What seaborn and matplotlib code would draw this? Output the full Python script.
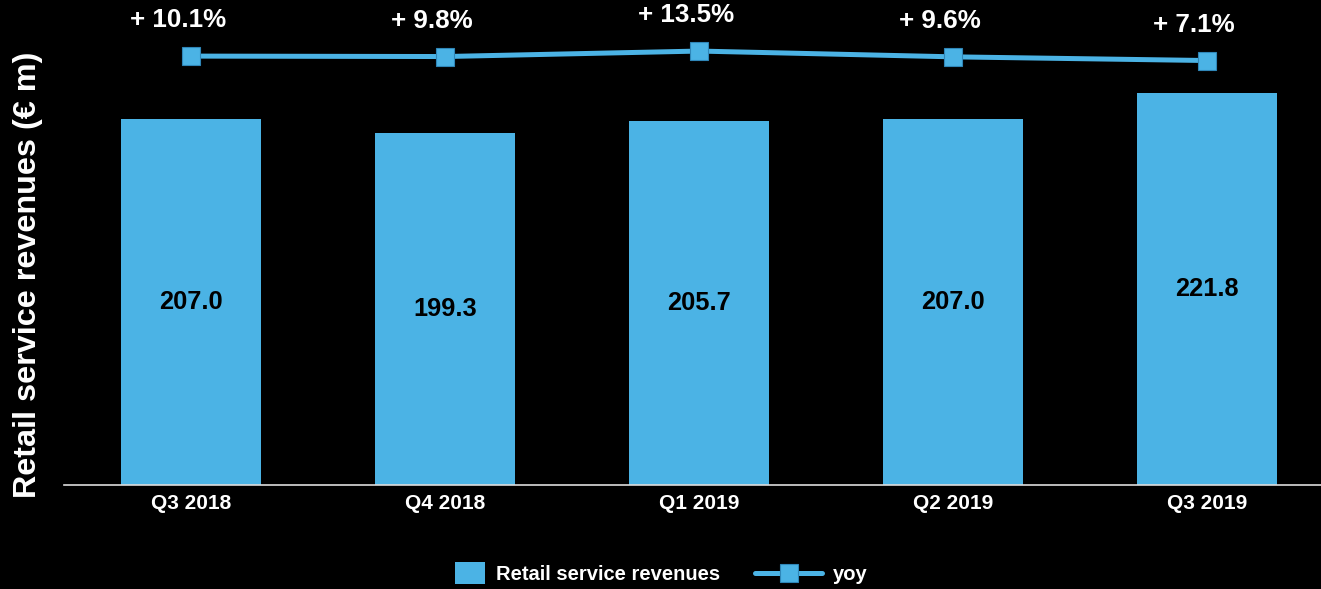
import numpy as np
import pandas as pd
import matplotlib
matplotlib.use("Agg")
import matplotlib.pyplot as plt
from matplotlib.patches import Rectangle, Patch
from matplotlib.lines import Line2D
from matplotlib.legend_handler import HandlerPatch
import seaborn as sns

# Quarterly retail service revenues and year-over-year growth
quarters = ["Q3 2018", "Q4 2018", "Q1 2019", "Q2 2019", "Q3 2019"]
revenues = [207.0, 199.3, 205.7, 207.0, 221.8]
yoy_growth = [10.1, 9.8, 13.5, 9.6, 7.1]

BLUE = "#4BB3E5"
EDGE = "#2F86B8"

sns.set_theme(style="white")
plt.rcParams["font.family"] = ["Liberation Sans", "DejaVu Sans"]
plt.rcParams["font.weight"] = "bold"

df = pd.DataFrame({"quarter": quarters, "revenue": revenues,
                   "pos": np.arange(len(quarters)), "yoy": yoy_growth})

W, H = 1321, 589
fig = plt.figure(figsize=(W / 100, H / 100), dpi=100, facecolor="black")
ax = fig.add_axes([64 / W, (H - 485) / H, (W - 64) / W, 485 / H])
ax.set_facecolor("black")

sns.barplot(data=df, x="quarter", y="revenue", color=BLUE, saturation=1,
            width=0.555, edgecolor="none", linewidth=0, ax=ax)
ax.set_xlim(-0.5, -0.5 + (W - 64) / 254)
ax.set_ylim(0, 485 / 1.768)
ax.set_xlabel("")
ax.set_ylabel("")
ax.set_yticks([])
for s in ["top", "right", "left"]:
    ax.spines[s].set_visible(False)
ax.spines["bottom"].set_color("#DDDDDD")
ax.spines["bottom"].set_linewidth(1.2)
ax.spines["bottom"].set_zorder(5)
ax.tick_params(axis="x", length=0, pad=6.5, labelsize=15, labelcolor="white")
for lab in ax.get_xticklabels():
    lab.set_fontweight("bold")

for cont in ax.containers:
    ax.bar_label(cont, labels=[f"{v:.1f}" for v in revenues], label_type="center",
                 fontsize=18.3, fontweight="bold", color="black")

# growth line on its own scale above the bars
ax2 = ax.twinx()
ax2.set_facecolor("none")
sns.lineplot(data=df, x="pos", y="yoy", ax=ax2, color=BLUE, linewidth=3.6,
             marker="s", markersize=13, markeredgecolor=EDGE,
             markeredgewidth=0.8, legend=False)
ax2.set_ylim(48.0 - 485 / 1.48, 48.0)
ax2.set_xlim(ax.get_xlim())
ax2.set_yticks([])
ax2.set_ylabel("")
ax2.set_xlabel("")
for s in ax2.spines.values():
    s.set_visible(False)
for i, v in enumerate(yoy_growth):
    ax2.annotate(f"+ {v:.1f}%", xy=(i, v), xytext=(-9.4, 25.9),
                 textcoords="offset points", ha="center", va="center",
                 fontsize=18.7, fontweight="bold", color="white")

fig.text(28 / W, 1 - 275 / H, "Retail service revenues (€ m)", rotation=90,
         ha="center", va="center", fontsize=23.3, fontweight="bold",
         color="white")


def small_square(legend, orig_handle, xdescent, ydescent, width, height, fontsize):
    w, h = 21.6, 15.8
    return Rectangle((-xdescent + width - w, -ydescent + (height - h) / 2), w, h)


handles = [Patch(facecolor=BLUE, edgecolor="none"),
           Line2D([], [], color=BLUE, linewidth=3.6, marker="s", markersize=13,
                  markeredgecolor=EDGE, markeredgewidth=0.8)]
fig.legend(handles, ["Retail service revenues", "yoy"], loc="center",
           bbox_to_anchor=(643 / W, 1 - 575 / H), ncol=2, frameon=False,
           labelcolor="white", handlelength=3.3,
           handletextpad=0.55, columnspacing=1.75, numpoints=1,
           prop={"weight": "bold", "size": 14.5},
           handler_map={Patch: HandlerPatch(patch_func=small_square)})

fig.savefig("out.png", dpi=100, facecolor="black")
